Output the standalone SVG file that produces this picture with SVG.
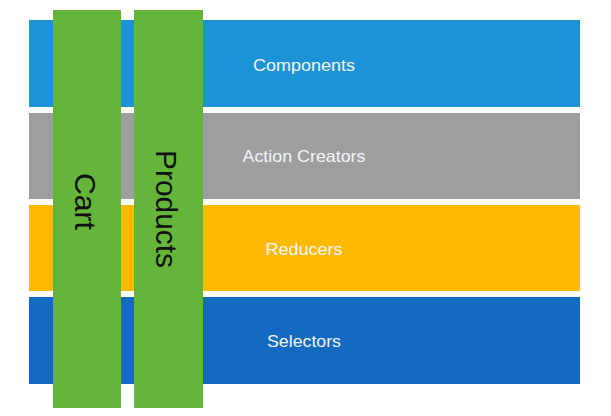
<svg xmlns="http://www.w3.org/2000/svg" width="611" height="416" viewBox="0 0 611 416">
<style>
.lbl{font-family:"Liberation Sans",Arial,sans-serif;font-size:17px;fill:#f4f6f8;text-anchor:middle}
.vl{font-family:"Liberation Sans",Arial,sans-serif;font-size:30px;fill:#111;text-anchor:middle}
.bar{fill:#64b53a}
</style>
<rect width="611" height="416" fill="#ffffff"/>
<g id="components"><rect x="29" y="20" width="551" height="87" fill="#1b93d6"/><text class="lbl" x="304" y="70.5" textLength="102" lengthAdjust="spacingAndGlyphs">Components</text></g>
<g id="action-creators"><rect x="29" y="113" width="551" height="86" fill="#9e9e9e"/><text class="lbl" x="304" y="162.3" textLength="123" lengthAdjust="spacingAndGlyphs">Action Creators</text></g>
<g id="reducers"><rect x="29" y="205" width="551" height="86" fill="#ffb900"/><text class="lbl" x="304" y="255" textLength="77" lengthAdjust="spacingAndGlyphs">Reducers</text></g>
<g id="selectors"><rect x="29" y="297" width="551" height="87" fill="#1469c1"/><text class="lbl" x="304" y="346.7" textLength="74" lengthAdjust="spacingAndGlyphs">Selectors</text></g>
<g id="cart"><rect class="bar" x="53" y="10" width="68" height="398"/><text class="vl" transform="translate(74.5,201.5) rotate(90)" x="0" y="0" textLength="57" lengthAdjust="spacingAndGlyphs">Cart</text></g>
<g id="products"><rect class="bar" x="134" y="10" width="69" height="398"/><text class="vl" transform="translate(155.5,209) rotate(90)" x="0" y="0" textLength="118" lengthAdjust="spacingAndGlyphs">Products</text></g>
<g id="connectors"></g>
</svg>
